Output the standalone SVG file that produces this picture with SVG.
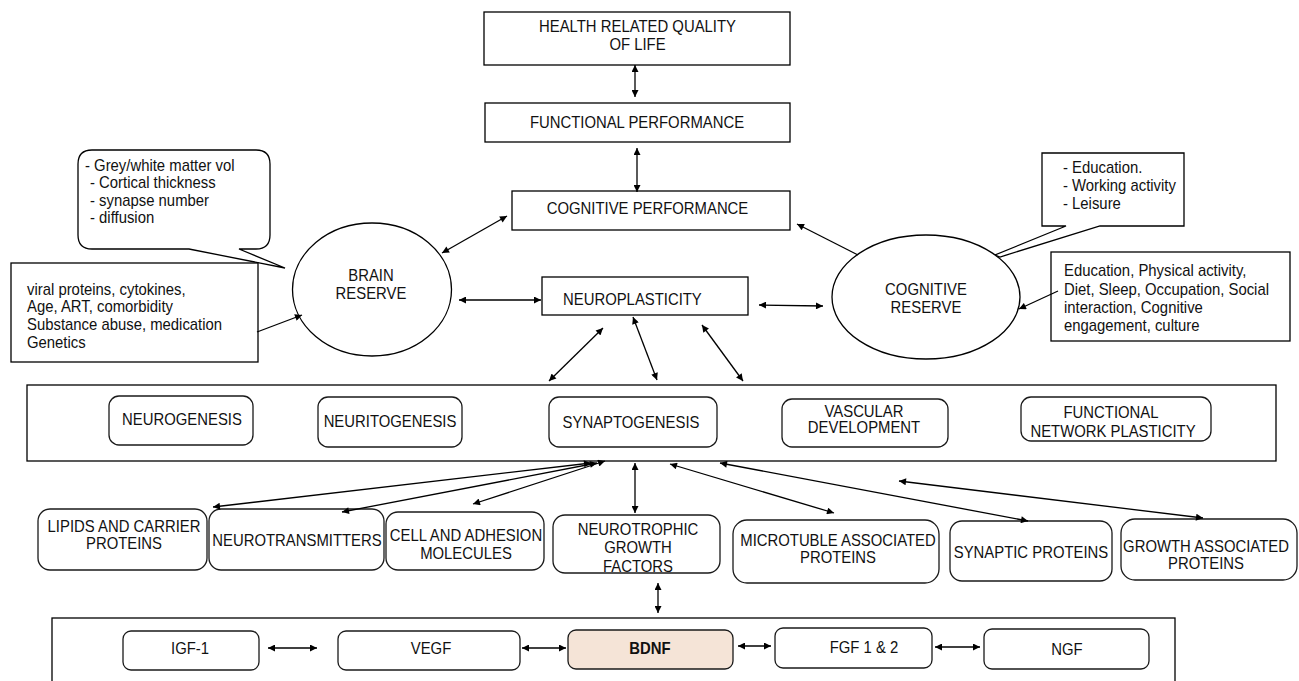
<svg xmlns="http://www.w3.org/2000/svg" width="1299" height="681" viewBox="0 0 1299 681">
<defs>
<marker id="ah" viewBox="0 0 10 10" refX="10" refY="5" markerWidth="9" markerHeight="7" markerUnits="userSpaceOnUse" orient="auto-start-reverse">
<path d="M0,0 L10,5 L0,10 z" fill="#000"/>
</marker>
<style>
.b{fill:#fff;stroke:#000;stroke-width:1.3}
.r{fill:#fff;stroke:#1a1a1a;stroke-width:1.3}
.t{font-family:"Liberation Sans",Arial,sans-serif;font-size:16px;fill:#111}
.c{text-anchor:middle}
.bold{font-weight:bold}
.cn{fill:none;stroke:#000;stroke-width:1.3}
.both{marker-start:url(#ah);marker-end:url(#ah)}
.end{marker-end:url(#ah)}
</style>
</defs>
<rect width="1299" height="681" fill="#fff"/>

<g id="hrql">
<rect class="b" x="484" y="12" width="306" height="53"/>
<text class="t c" transform="matrix(.93 0 0 1 637.5 32)">HEALTH RELATED QUALITY</text>
<text class="t c" transform="matrix(.93 0 0 1 637.5 50)">OF LIFE</text>
</g>
<g id="functional-performance">
<rect class="b" x="485" y="103" width="305" height="39"/>
<text class="t c" transform="matrix(.93 0 0 1 637 128)">FUNCTIONAL PERFORMANCE</text>
</g>
<g id="cognitive-performance">
<rect class="b" x="512" y="191" width="278" height="39"/>
<text class="t c" transform="matrix(.93 0 0 1 647.5 214)">COGNITIVE PERFORMANCE</text>
</g>
<g id="neuroplasticity">
<rect class="b" x="542" y="277" width="206" height="38"/>
<text class="t" transform="matrix(.93 0 0 1 563 305)">NEUROPLASTICITY</text>
</g>
<g id="brain-callout">
<path class="b" d="M189,249 L92,249 Q78,249 78,235 L78,164 Q78,150 92,150 L256,150 Q270,150 270,164 L270,235 Q270,249 256,249 L239,249 L285,268 Z"/>
<text class="t" transform="matrix(.93 0 0 1 85 171)">- Grey/white matter vol</text>
<text class="t" transform="matrix(.93 0 0 1 90 188)">- Cortical thickness</text>
<text class="t" transform="matrix(.93 0 0 1 90 206)">- synapse number</text>
<text class="t" transform="matrix(.93 0 0 1 90 223)">- diffusion</text>
</g>
<g id="brain-factors">
<rect class="b" x="11" y="263" width="247" height="99"/>
<text class="t" transform="matrix(.93 0 0 1 27 295)">viral proteins, cytokines,</text>
<text class="t" transform="matrix(.93 0 0 1 27 312)">Age, ART, comorbidity</text>
<text class="t" transform="matrix(.93 0 0 1 27 330)">Substance abuse, medication</text>
<text class="t" transform="matrix(.93 0 0 1 27 348)">Genetics</text>
</g>
<g id="brain-reserve">
<ellipse class="b" cx="372" cy="289.5" rx="79.5" ry="66.5"/>
<text class="t c" transform="matrix(.93 0 0 1 371 281)">BRAIN</text>
<text class="t c" transform="matrix(.93 0 0 1 371 299)">RESERVE</text>
</g>
<g id="cognitive-callout">
<path class="b" d="M1066,226 L1042,226 L1042,153 L1184,153 L1184,226 L1100,226 L1000,257 L995,255 Z"/>
<text class="t" transform="matrix(.93 0 0 1 1063 173)">- Education.</text>
<text class="t" transform="matrix(.93 0 0 1 1063 191)">- Working activity</text>
<text class="t" transform="matrix(.93 0 0 1 1063 209)">- Leisure</text>
</g>
<g id="cognitive-reserve">
<ellipse class="b" cx="926" cy="297" rx="94" ry="62"/>
<text class="t c" transform="matrix(.93 0 0 1 926 295)">COGNITIVE</text>
<text class="t c" transform="matrix(.93 0 0 1 926 313)">RESERVE</text>
</g>
<g id="cognitive-factors">
<rect class="b" x="1051" y="252" width="239" height="89"/>
<text class="t" transform="matrix(.93 0 0 1 1064 276)">Education, Physical activity,</text>
<text class="t" transform="matrix(.93 0 0 1 1064 295)">Diet, Sleep, Occupation, Social</text>
<text class="t" transform="matrix(.93 0 0 1 1064 313)">interaction, Cognitive</text>
<text class="t" transform="matrix(.93 0 0 1 1064 331)">engagement, culture</text>
</g>

<g id="processes">
<rect class="b" x="27" y="385" width="1249" height="76"/>
</g>
<g id="neurogenesis">
<rect class="r" x="109" y="396" width="144" height="49" rx="10"/>
<text class="t c" transform="matrix(.93 0 0 1 182 425)">NEUROGENESIS</text>
</g>
<g id="neuritogenesis">
<rect class="r" x="318" y="397" width="144" height="50" rx="10"/>
<text class="t c" transform="matrix(.93 0 0 1 390 427)">NEURITOGENESIS</text>
</g>
<g id="synaptogenesis">
<rect class="r" x="549" y="397" width="168" height="50" rx="10"/>
<text class="t c" transform="matrix(.93 0 0 1 631 428)">SYNAPTOGENESIS</text>
</g>
<g id="vascular">
<rect class="r" x="782" y="399" width="166" height="48" rx="10"/>
<text class="t c" transform="matrix(.93 0 0 1 864 417)">VASCULAR</text>
<text class="t c" transform="matrix(.93 0 0 1 864 433)">DEVELOPMENT</text>
</g>
<g id="functional-network">
<rect class="r" x="1021" y="397" width="190" height="44" rx="10"/>
<text class="t c" transform="matrix(.93 0 0 1 1111 418)">FUNCTIONAL</text>
<text class="t c" transform="matrix(.93 0 0 1 1113 437)">NETWORK PLASTICITY</text>
</g>

<g id="lipids">
<rect class="r" x="38" y="509" width="169" height="61" rx="12"/>
<text class="t c" transform="matrix(.93 0 0 1 124 532)">LIPIDS AND CARRIER</text>
<text class="t c" transform="matrix(.93 0 0 1 124 549)">PROTEINS</text>
</g>
<g id="neurotransmitters">
<rect class="r" x="209" y="509" width="175" height="61" rx="12"/>
<text class="t c" transform="matrix(.93 0 0 1 297 546)">NEUROTRANSMITTERS</text>
</g>
<g id="cell-adhesion">
<rect class="r" x="386" y="512" width="158" height="58" rx="12"/>
<text class="t c" transform="matrix(.93 0 0 1 466 541)">CELL AND ADHESION</text>
<text class="t c" transform="matrix(.93 0 0 1 466 559)">MOLECULES</text>
</g>
<g id="neurotrophic">
<rect class="r" x="553" y="515" width="167" height="58" rx="12"/>
<text class="t c" transform="matrix(.93 0 0 1 638 535)">NEUROTROPHIC</text>
<text class="t c" transform="matrix(.93 0 0 1 638 553)">GROWTH</text>
<text class="t c" transform="matrix(.93 0 0 1 638 572)">FACTORS</text>
</g>
<g id="microtubule">
<rect class="r" x="733" y="520" width="206" height="63" rx="14"/>
<text class="t c" transform="matrix(.93 0 0 1 838 546)">MICROTUBLE ASSOCIATED</text>
<text class="t c" transform="matrix(.93 0 0 1 838 563)">PROTEINS</text>
</g>
<g id="synaptic-proteins">
<rect class="r" x="950" y="521" width="162" height="60" rx="12"/>
<text class="t c" transform="matrix(.93 0 0 1 1031 558)">SYNAPTIC PROTEINS</text>
</g>
<g id="growth-associated">
<rect class="r" x="1121" y="519" width="176" height="61" rx="14"/>
<text class="t c" transform="matrix(.93 0 0 1 1206 552)">GROWTH ASSOCIATED</text>
<text class="t c" transform="matrix(.93 0 0 1 1206 569)">PROTEINS</text>
</g>

<g id="factors">
<rect class="b" x="52" y="618" width="1123" height="80"/>
</g>
<g id="igf1">
<rect class="r" x="123" y="631" width="136" height="39" rx="8"/>
<text class="t c" transform="matrix(.93 0 0 1 190 654)">IGF-1</text>
</g>
<g id="vegf">
<rect class="r" x="338" y="631" width="182" height="39" rx="8"/>
<text class="t c" transform="matrix(.93 0 0 1 431 654)">VEGF</text>
</g>
<g id="bdnf">
<rect x="568" y="630" width="165" height="39" rx="8" fill="#f5e4d7" stroke="#1a1a1a" stroke-width="1.3"/>
<text class="t c bold" transform="matrix(.93 0 0 1 650 654)">BDNF</text>
</g>
<g id="fgf">
<rect class="r" x="775" y="628" width="157" height="40" rx="8"/>
<text class="t c" transform="matrix(.93 0 0 1 864 653)">FGF 1 &amp; 2</text>
</g>
<g id="ngf">
<rect class="r" x="984" y="629" width="165" height="40" rx="8"/>
<text class="t c" transform="matrix(.93 0 0 1 1067 655)">NGF</text>
</g>

<g id="connectors">
<line class="cn both" x1="635" y1="65" x2="635" y2="97"/>
<line class="cn both" x1="637" y1="148" x2="637" y2="192"/>
<line class="cn both" x1="507" y1="216" x2="442" y2="253"/>
<line class="cn end" x1="858" y1="255" x2="797" y2="224"/>
<line class="cn both" x1="459" y1="300" x2="541" y2="300"/>
<line class="cn both" x1="759" y1="305" x2="823" y2="306"/>
<line class="cn end" x1="257" y1="332" x2="302" y2="315"/>
<line class="cn end" x1="1058" y1="291" x2="1019" y2="309"/>
<line class="cn both" x1="603" y1="328" x2="549" y2="381"/>
<line class="cn both" x1="633" y1="317" x2="657" y2="380"/>
<line class="cn both" x1="702" y1="325" x2="743" y2="381"/>
<line class="cn both" x1="591" y1="463" x2="213" y2="507"/>
<line class="cn both" x1="597" y1="463" x2="342" y2="512"/>
<line class="cn both" x1="605" y1="461" x2="473" y2="504"/>
<line class="cn both" x1="635" y1="463" x2="635" y2="513"/>
<line class="cn both" x1="670" y1="464" x2="834" y2="513"/>
<line class="cn both" x1="720" y1="463" x2="1028" y2="521"/>
<line class="cn both" x1="899" y1="481" x2="1203" y2="518"/>
<line class="cn both" x1="658" y1="583" x2="658" y2="613"/>
<line class="cn both" x1="268" y1="648" x2="317" y2="648"/>
<line class="cn both" x1="522" y1="648" x2="566" y2="648"/>
<line class="cn both" x1="738" y1="646" x2="771" y2="646"/>
<line class="cn both" x1="935" y1="647" x2="980" y2="647"/>
</g>
</svg>
